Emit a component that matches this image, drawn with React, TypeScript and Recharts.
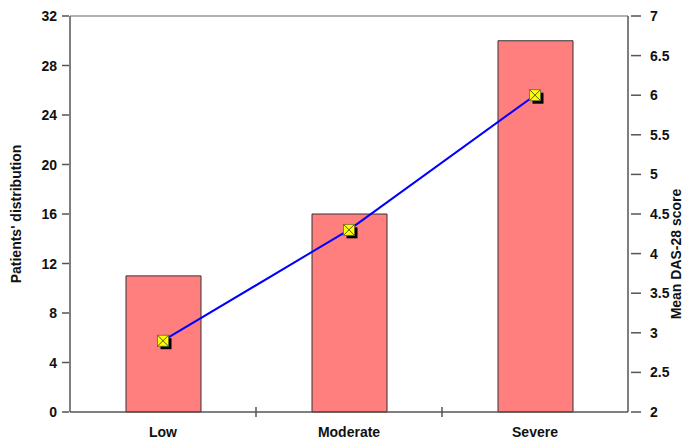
import React from 'react';
import {
  ComposedChart,
  Bar,
  Line,
  XAxis,
  YAxis,
  ReferenceLine,
} from 'recharts';

// severity groups
const categories = ['Low', 'Moderate', 'Severe'];
// number of patients per group (left axis)
const patients = [11, 16, 30];
// mean DAS-28 score per group (right axis)
const meanDas = [2.9, 4.3, 6.0];

const leftTicks = [0, 4, 8, 12, 16, 20, 24, 28, 32];
const rightTicks = [2, 2.5, 3, 3.5, 4, 4.5, 5, 5.5, 6, 6.5, 7];

const chartData = categories.map((name, i) => ({
  name,
  patients: patients[i],
  das: meanDas[i],
}));

const FONT = '"Liberation Sans", Arial, sans-serif';
const AXIS = '#555555';

// yellow square marker with a cross and a black drop shadow
const SquareDot = (props: any) => {
  const { cx, cy } = props;
  if (cx == null || cy == null) return null;
  const s = 11;
  const h = s / 2;
  return (
    <g>
      <rect x={cx - h + 3} y={cy - h + 3} width={s} height={s} fill="#000" />
      <rect x={cx - h} y={cy - h} width={s} height={s} fill="#ffff00" stroke="#6b6b2a" strokeWidth={0.8} />
      <line x1={cx - h} y1={cy - h} x2={cx + h} y2={cy + h} stroke="#55552a" strokeWidth={1} />
      <line x1={cx + h} y1={cy - h} x2={cx - h} y2={cy + h} stroke="#55552a" strokeWidth={1} />
    </g>
  );
};

const RightTick = (props: any) => {
  const { x, y, payload } = props;
  return (
    <g>
      <line x1={x - 5} y1={y} x2={x + 5} y2={y} stroke={AXIS} strokeWidth={1.5} />
      <text x={x + 14} y={y} dy={5} textAnchor="start" fontFamily={FONT} fontWeight="bold" fontSize={14} fill="#111">
        {payload.value}
      </text>
    </g>
  );
};

const LeftTick = (props: any) => {
  const { x, y, payload } = props;
  return (
    <g>
      <line x1={x} y1={y} x2={x + 7} y2={y} stroke={AXIS} strokeWidth={1.5} />
      <text x={x - 5} y={y} dy={5} textAnchor="end" fontFamily={FONT} fontWeight="bold" fontSize={14} fill="#111">
        {payload.value}
      </text>
    </g>
  );
};

// category label plus the tick marks that sit on the band edges
const BottomTick = (props: any) => {
  const { x, y, payload, index, visibleTicksCount } = props;
  const half = payload.offset || 0;
  const last = index === visibleTicksCount - 1;
  return (
    <g>
      {index > 0 && (
        <line x1={x - half} y1={y - 5} x2={x - half} y2={y + 5} stroke={AXIS} strokeWidth={1.5} />
      )}
      {last ? null : null}
      <text x={x} y={y} dy={25} textAnchor="middle" fontFamily={FONT} fontWeight="bold" fontSize={14} fill="#111">
        {payload.value}
      </text>
    </g>
  );
};

export default function App() {
  return (
    <div style={{ position: 'absolute', left: 0, top: 0, background: '#fff' }}>
      <ComposedChart
        width={694}
        height={446}
        data={chartData}
        margin={{ top: 16, right: 10, bottom: 0, left: 10 }}
      >
        <XAxis
          dataKey="name"
          height={34}
          stroke={AXIS}
          strokeWidth={1.5}
          tickLine={false}
          tickSize={0}
          tickMargin={0}
          tick={<BottomTick />}
          interval={0}
        />
        <YAxis
          yAxisId="left"
          domain={[0, 32]}
          ticks={leftTicks}
          width={60}
          stroke={AXIS}
          strokeWidth={1.5}
          tickLine={false}
          tick={<LeftTick />}
          interval={0}
          label={{
            value: "Patients' distribution",
            angle: -90,
            position: 'insideLeft',
            offset: 0,
            dx: 6,
            style: { fontFamily: FONT, fontWeight: 'bold', fontSize: 14, fill: '#111', textAnchor: 'middle' },
          }}
        />
        <YAxis
          yAxisId="right"
          orientation="right"
          domain={[2, 7]}
          ticks={rightTicks}
          width={56}
          stroke={AXIS}
          strokeWidth={1.5}
          tickLine={false}
          tick={<RightTick />}
          interval={0}
          label={{
            value: 'Mean DAS-28 score',
            angle: -90,
            position: 'insideRight',
            offset: 0,
            dx: -8,
            dy: 40,
            style: { fontFamily: FONT, fontWeight: 'bold', fontSize: 14, fill: '#111', textAnchor: 'middle' },
          }}
        />
        <ReferenceLine yAxisId="left" y={32} stroke="#999999" strokeWidth={1.5} />
        <Bar
          yAxisId="left"
          dataKey="patients"
          fill="#ff7f7f"
          stroke="#333333"
          strokeWidth={1}
          barSize={75}
          isAnimationActive={false}
        />
        <Line
          yAxisId="right"
          dataKey="das"
          stroke="#0000ff"
          strokeWidth={2}
          dot={<SquareDot />}
          activeDot={false}
          isAnimationActive={false}
        />
      </ComposedChart>
    </div>
  );
}
